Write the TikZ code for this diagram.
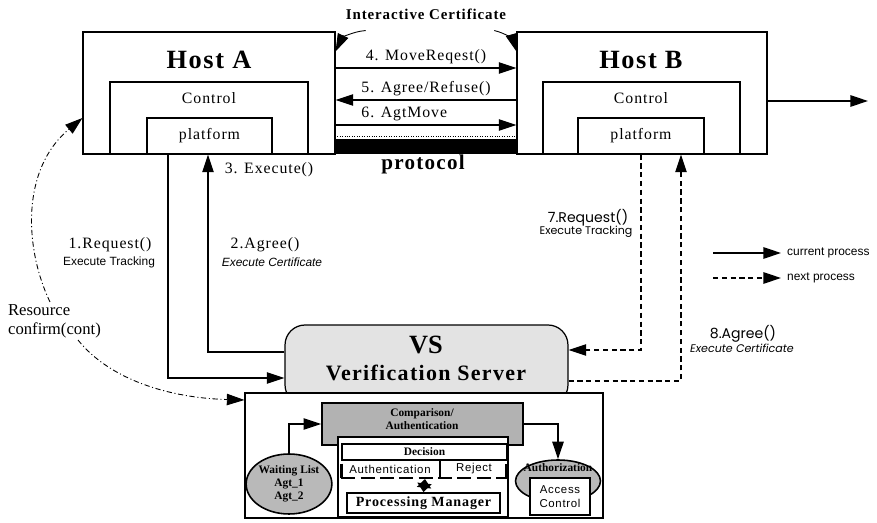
\documentclass[tikz,border=0pt]{standalone}
\usepackage{fontspec}
\setmainfont{Liberation Serif}
\setsansfont{Liberation Sans}
\newfontfamily\spaced[LetterSpace=6]{Liberation Serif}
\newfontfamily\spacedsans[LetterSpace=6]{Liberation Sans}
\newfontfamily\geofont{Poppins}
\usetikzlibrary{arrows.meta,shapes.geometric,calc}

\begin{document}
\begin{tikzpicture}[x=0.02cm, y=-0.02cm,
    box/.style={draw, line width=0.7pt, inner sep=0pt},
    cur/.style={line width=0.7pt, -{Triangle[length=10pt,width=6.5pt]}},
    nxt/.style={cur, dash pattern=on 3pt off 2pt},
    res/.style={line width=0.5pt, dash pattern=on 3pt off 1.5pt on 0.6pt off 1.5pt},
    title/.style={font=\spaced\bfseries\fontsize{15}{18}\selectfont},
    msg/.style={font=\spaced\fontsize{9}{11}\selectfont, inner sep=1pt},
    note/.style={font=\sffamily\fontsize{6.8}{8}\selectfont},
    geo/.style={font=\geofont\fontsize{8}{10}\selectfont},
    tiny/.style={font=\bfseries\fontsize{6.5}{7.5}\selectfont, align=center}]
  \useasboundingbox (0,0) rectangle (877,523);

  % the two hosts
  \node[box, minimum width=5.04cm, minimum height=2.44cm] (hostA) at (209,93) {};
  \node[box, minimum width=3.96cm, minimum height=1.44cm] (ctrlA) at (209,118) {};
  \node[box, msg, inner sep=0pt, minimum width=2.5cm, minimum height=0.72cm] (platA) at (209.5,136) {platform};
  \node[title] (hostAt) at (209,60) {Host A};   \node[msg] (ctrlAt) at (209,98) {Control};
  \node[box, minimum width=5.0cm, minimum height=2.44cm] (hostB) at (642,93) {};
  \node[box, minimum width=3.94cm, minimum height=1.44cm] (ctrlB) at (641.5,118) {};
  \node[box, msg, inner sep=0pt, minimum width=2.52cm, minimum height=0.72cm] (platB) at (641,136) {platform};
  \node[title] (hostBt) at (641,60) {Host B};   \node[msg] (ctrlBt) at (641,98) {Control};

  % protocol bar and messages
  \node[fill=black, inner sep=0pt, minimum width=3.64cm, minimum height=0.3cm] (bar) at (426,146.5) {};
  \draw[densely dotted, line width=0.4pt] ($(bar.north west)+(0,-2)$) -- ($(bar.north east)+(0,-2)$);
  \node[font=\spaced\bfseries\fontsize{12}{14}\selectfont] (proto) at (423,164) {protocol};
  \draw[cur] (hostA.east |- 0,68) -- (hostB.west |- 0,68) node[msg, midway, above=1pt] {4. MoveReqest()};
  \draw[cur] (hostB.west |- 0,100) -- (hostA.east |- 0,100) node[msg, midway, above=1pt] {5. Agree/Refuse()};
  \draw[cur] (hostA.east |- 0,125) -- (hostB.west |- 0,125) node[msg, pos=0.38, above=1pt] {6. AgtMove};
  \node[font=\spaced\bfseries\fontsize{8.5}{10}\selectfont] (ic) at (426,14) {Interactive Certificate};
  \draw[cur, line width=0.5pt] ($(ic.south west)+(26,5)$) to[bend right=30] ($(hostA.north east)+(0,20)$);
  \draw[cur, line width=0.5pt] ($(ic.south east)+(-18,5)$) to[bend left=30] ($(hostB.north west)+(0,20)$);
  \coordinate (out) at (868,101);
  \draw[cur] (hostB.east |- out) -- (out);

  % verification server
  \node[draw, line width=0.7pt, fill=gray!22, rounded corners=0.4cm, minimum width=5.66cm, minimum height=1.6cm] (vs) at (426.5,365) {};
  \node[box, fill=white, minimum width=7.16cm, minimum height=2.5cm] (vsbody) at (424,455.5) {};
  \node[font=\bfseries\fontsize{15}{18}\selectfont] (vst) at (426,345) {VS};
  \node[font=\spaced\bfseries\fontsize{12.5}{15}\selectfont] (vsname) at (426,373) {Verification Server};

  \node[box, line width=1pt, fill=gray!60, minimum width=4.02cm, minimum height=0.84cm] (comp) at (422.5,424) {};
  \node[tiny] (compt) at (422,419) {Comparison/\\Authentication};
  \node[box, fill=white, minimum width=3.4cm, minimum height=1.6cm] (core) at (423,477) {};
  \node[box, minimum width=3.3cm, minimum height=0.32cm, tiny] (dec) at (424.5,452) {Decision};
  \draw[line width=0.6pt] (dec.south -| 440,0) -- (440,478);
  \draw[line width=1.2pt, dash pattern=on 8pt off 3pt] (dec.south west |- 0,478) -- (dec.south east |- 0,478);
  \draw[line width=1.5pt] ($(dec.south west)+(0,3)$) -- +(0,14);
  \draw[line width=1.5pt] ($(dec.south east)+(-1,3)$) -- +(0,14);
  \node[font=\spacedsans\fontsize{6.5}{8}\selectfont] (authn) at (390,469) {Authentication};
  \node[font=\spacedsans\fontsize{6.5}{8}\selectfont] (rej) at (474,469) {Reject};
  \node[box, line width=1pt, minimum width=3.06cm, minimum height=0.4cm, font=\spaced\bfseries\fontsize{8}{10}\selectfont] (pm) at (423.5,503) {Processing Manager};
  \draw[line width=1pt, {Triangle[length=5pt,width=8pt]}-{Triangle[length=5pt,width=8pt]}] (425,479) -- (pm.north);

  \node[ellipse, draw, line width=0.9pt, fill=gray!55, minimum width=1.68cm, minimum height=1.2cm, inner sep=0pt, tiny] (wait) at (289,484) {Waiting List\\Agt\_1\\Agt\_2};
  \node[ellipse, draw, line width=0.9pt, fill=gray!55, minimum width=1.7cm, minimum height=0.84cm, inner sep=0pt] (auth) at (558,481) {};
  \node[tiny] (autht) at (558,468) {Authorization};
  \node[box, fill=white, minimum width=1.2cm, minimum height=0.74cm, align=center, font=\spacedsans\fontsize{6.5}{8}\selectfont] (acc) at (560,496.5) {Access\\Control};
  \draw[cur] (wait.north) |- (comp.west);
  \draw[cur] (comp.east) -| (auth.north);

  % current process (solid)
  \draw[cur] (platA.south -| 168,0) |- (vs.west |- 0,378);
  \draw[cur] (vs.west |- 0,352) -| (platA.south -| 208,0);
  \node[msg] (r1) at (110,245) {1.Request()};          \node[note] (r1n) at (109,262) {Execute Tracking};
  \node[msg] (a2) at (265,245) {2.Agree()};            \node[note, font=\sffamily\itshape\fontsize{6.8}{8}\selectfont] (a2n) at (272,262) {Execute Certificate};
  \node[msg] (e3) at (269,170) {3. Execute()};

  % next process (dashed)
  \draw[nxt] (platB.south) |- (vs.east |- 0,350);
  \draw[nxt] (vs.east |- 0,381) -| (platB.south -| 681,0);
  \node[geo] (r7) at (588,218) {7.Request()};          \node[geo, font=\geofont\fontsize{6.3}{8}\selectfont] (r7n) at (586,232) {Execute Tracking};
  \node[geo] (a8) at (743,334) {8.Agree()};            \node[geo, font=\geofont\itshape\fontsize{6.3}{8}\selectfont] (a8n) at (742,348) {Execute Certificate};

  % resource confirmation
  \node[msg, align=left, anchor=west, font=\fontsize{9.5}{11}\selectfont] (res) at (6,321) {Resource\\confirm(cont)};
  \draw[res, -{Triangle[length=10pt,width=6.5pt]}] ($(res.north west)+(44,0)$) .. controls (25,250) and (20,170) .. (hostA.west |- 0,118);
  \draw[res, -{Triangle[length=10pt,width=6.5pt]}] ($(res.south west)+(72,0)$) .. controls (110,380) and (170,398) .. (vsbody.west |- 0,400);

  % legend
  \node[font=\sffamily\fontsize{6.8}{8}\selectfont, anchor=west] (lcur) at (781,253) {current process};
  \node[font=\sffamily\fontsize{6.8}{8}\selectfont, anchor=west] (lnxt) at (781,278) {next process};
  \draw[cur] (lcur.west -| 713,0) -- (lcur.west);
  \draw[nxt] (lnxt.west -| 713,0) -- (lnxt.west);
\end{tikzpicture}
\end{document}
